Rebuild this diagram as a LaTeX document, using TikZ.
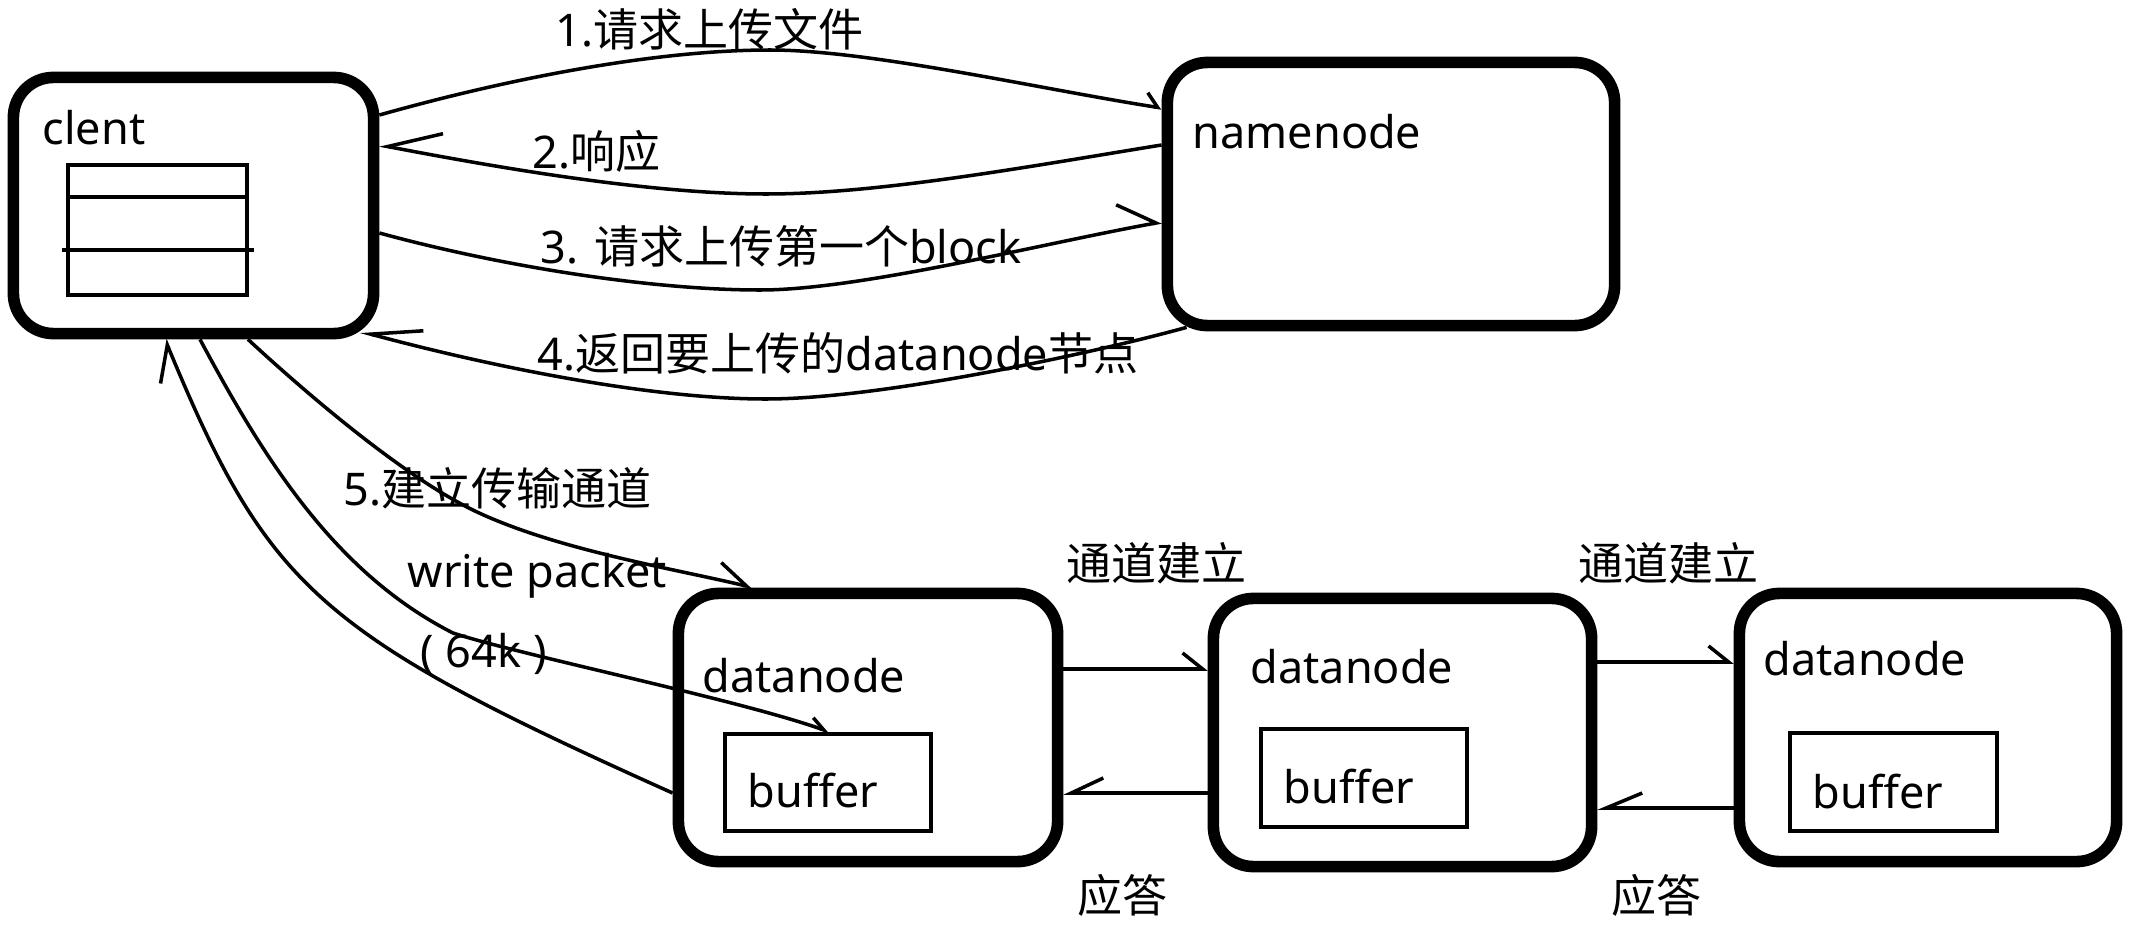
\documentclass[tikz,border=0pt]{standalone}
\usepackage{fontspec}
\setmainfont{Noto Sans}
\newfontfamily\cjk{Noto Sans CJK SC}
\usetikzlibrary{arrows.meta,calc}
\begin{document}
\begin{tikzpicture}[x=0.01cm,y=-0.01cm,
  box/.style={draw,line width=3.3pt,rounded corners=0.4cm,inner sep=0},
  thinbox/.style={draw,line width=1pt,inner sep=0},
  lbl/.style={inner sep=0,anchor=base west,font=\fontsize{12.8pt}{15pt}\selectfont},
  conn/.style={line width=1pt},
  hl/.style 2 args={-{Straight Barb[harpoon,length=#1,width=#2]}},
  hr/.style 2 args={-{Straight Barb[harpoon,swap,length=#1,width=#2]}}
]
\useasboundingbox (0,0) rectangle (2148,924);

% boxes
\node[box,minimum width=3.60cm,minimum height=2.56cm] (client) at (193.5,205.5) {};
\node[box,minimum width=4.47cm,minimum height=2.63cm] (namenode) at (1391,194) {};
\node[box,minimum width=3.79cm,minimum height=2.68cm] (dn1) at (868,727.5) {};
\node[box,minimum width=3.78cm,minimum height=2.68cm] (dn2) at (1402.5,732.5) {};
\node[box,minimum width=3.77cm,minimum height=2.68cm] (dn3) at (1928,727.5) {};
\node[thinbox,minimum width=2.06cm,minimum height=0.97cm] (buf1) at (828,782.5) {};
\node[thinbox,minimum width=2.06cm,minimum height=0.98cm] (buf2) at (1364,778) {};
\node[thinbox,minimum width=2.07cm,minimum height=0.98cm] (buf3) at (1893.5,782) {};
\node[thinbox,minimum width=1.79cm,minimum height=1.30cm] (stack) at (157.5,230) {};
\draw[conn] (stack.west |- 0,197) -- (stack.east |- 0,197);
\draw[conn] ($(stack.west |- 0,250)+(-4,0)$) -- ($(stack.east |- 0,250)+(5,0)$);

% box texts
\node[lbl] (tclient) at (42,144) {clent};
\node[lbl] (tnn) at (1192,148) {namenode};
\node[lbl] (tdn1) at (702,692) {datanode};
\node[lbl] (tdn2) at (1250,683) {datanode};
\node[lbl] (tdn3) at (1763,675) {datanode};
\node[lbl] (tb1) at (747,807) {buffer};
\node[lbl] (tb2) at (1283,803) {buffer};
\node[lbl] (tb3) at (1812,808) {buffer};

% connector labels
\node[lbl] (l1) at (555,47) {1.{\cjk 请求上传文件}};
\node[lbl] (l2) at (532,168) {2.{\cjk 响应}};
\node[lbl] (l3) at (540,263) {3. {\cjk 请求上传第一个}block};
\node[lbl] (l4) at (537,370) {4.{\cjk 返回要上传的}datanode{\cjk 节点}};
\node[lbl] (l5) at (343,505) {5.{\cjk 建立传输通道}};
\node[lbl] (lw) at (407,587) {write packet};
\node[lbl] (l64) at (420,667) {( 64k )};
\node[lbl] (lt1) at (1066,580) {\cjk 通道建立};
\node[lbl] (lt2) at (1578,580) {\cjk 通道建立};
\node[lbl] (la1) at (1077,912) {\cjk 应答};
\node[lbl] (la2) at (1611,912) {\cjk 应答};

% client <-> namenode
\draw[conn,hl={0.12cm}{0.26cm}] (client.east |- 0,115) .. controls (500,81) and (650,50) .. (770,50)
   .. controls (870,50) and (1040,89) .. (namenode.west |- 0,108);
\draw[conn,hr={0.52cm}{0.46cm}] (namenode.west |- 0,145) .. controls (1032,166) and (880,194) .. (766,194)
   .. controls (650,194) and (500,168) .. (client.east |- 0,145);
\draw[conn,hl={0.36cm}{0.5cm}] (client.east |- 0,233) .. controls (500,266) and (650,290) .. (760,290)
   .. controls (860,290) and (1040,244) .. (namenode.west |- 0,222);
\draw[conn,hr={0.5cm}{0.34cm}] ($(namenode.south west)+(25,-4)$) .. controls (1090,354) and (880,399) .. (766,399)
   .. controls (640,399) and (470,361) .. ($(client.south east)+(-19,-8)$);

% client <-> datanode 1
\draw[conn,hl={0.33cm}{0.42cm}] (dn1.west |- 0,793) .. controls (318,634) and (268,588) .. (client.south -| 165,0);
\draw[conn,hl={0.14cm}{0.16cm}] (client.south -| 200,0) .. controls (266,463) and (337,574) .. (453,633)
   .. controls (520,655) and (740,700) .. (buf1.north -| 830,0);
\draw[conn,hl={0.3cm}{0.34cm}] (client.south -| 248,0) .. controls (307,394) and (405,478) .. (477,512)
   .. controls (558,550) and (675,569) .. (dn1.north -| 753,0);

% datanode chain
\draw[conn,hl={0.2cm}{0.32cm}] (dn1.east |- 0,669) -- (dn2.west |- 0,669);
\draw[conn,hr={0.32cm}{0.3cm}] (dn2.west |- 0,793) -- (dn1.east |- 0,793);
\draw[conn,hl={0.2cm}{0.32cm}] (dn2.east |- 0,662) -- (dn3.west |- 0,662);
\draw[conn,hr={0.36cm}{0.3cm}] (dn3.west |- 0,808) -- (dn2.east |- 0,808);
\end{tikzpicture}
\end{document}
